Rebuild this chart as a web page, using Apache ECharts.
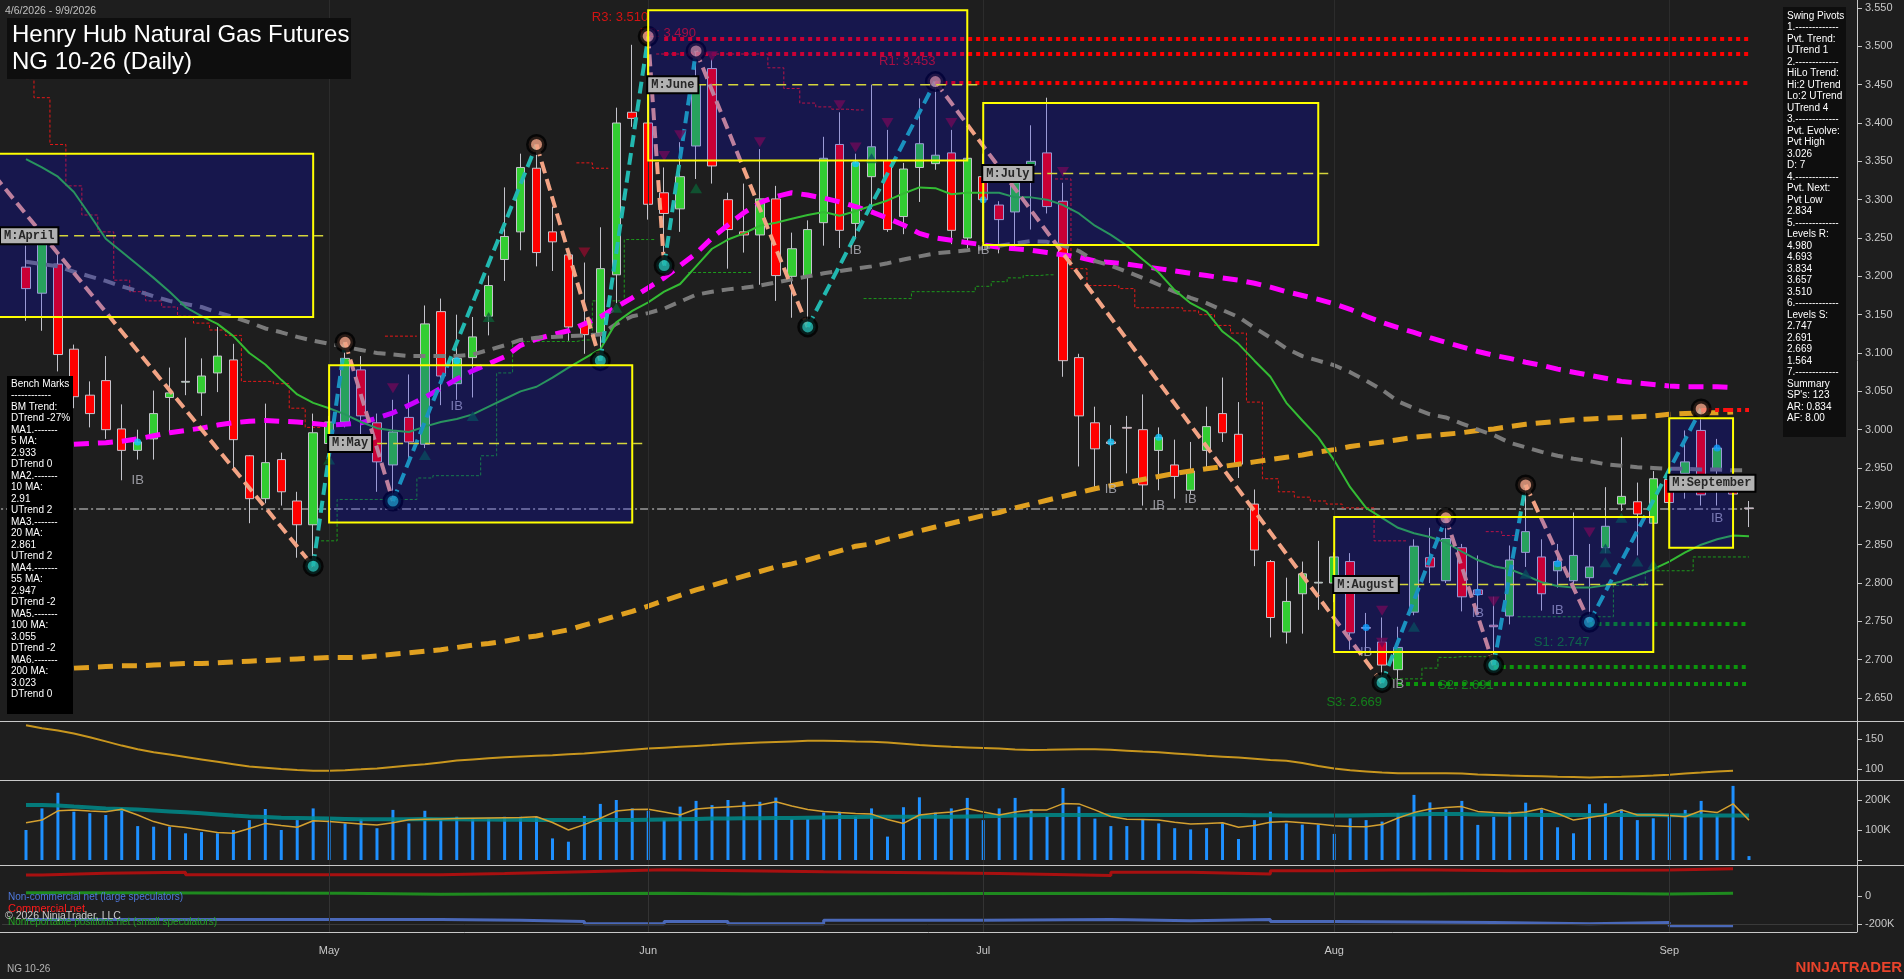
<!DOCTYPE html>
<html><head><meta charset="utf-8">
<script src="https://cdn.jsdelivr.net/npm/echarts@6/dist/echarts.min.js"></script>
<style>html,body{margin:0;padding:0;background:#1e1e1e;overflow:hidden}#c{width:1904px;height:979px}</style>
</head><body><div id="c"></div>
<script>
// ---------------- DATA ----------------
const dates = ['04-06','04-07','04-08','04-09','04-10','04-13','04-14','04-15','04-16','04-17','04-20','04-21','04-22','04-23','04-24','04-27','04-28','04-29','04-30',
'05-01','05-04','05-05','05-06','05-07','05-08','05-11','05-12','05-13','05-14','05-15','05-18','05-19','05-20','05-21','05-22','05-26','05-27','05-28','05-29',
'06-01','06-02','06-03','06-04','06-05','06-08','06-09','06-10','06-11','06-12','06-15','06-16','06-17','06-18','06-22','06-23','06-24','06-25','06-26','06-29','06-30',
'07-01','07-02','07-06','07-07','07-08','07-09','07-10','07-13','07-14','07-15','07-16','07-17','07-20','07-21','07-22','07-23','07-24','07-27','07-28','07-29','07-30','07-31',
'08-03','08-04','08-05','08-06','08-07','08-10','08-11','08-12','08-13','08-14','08-17','08-18','08-19','08-20','08-21','08-24','08-25','08-26','08-27','08-28','08-31',
'09-01','09-02','09-03','09-04','09-08','09-09'];
const monthNames = {'05':'May','06':'Jun','07':'Jul','08':'Aug','09':'Sep'};

// open, close, low, high
const ohlc = [
[3.212,3.184,3.142,3.240],[3.178,3.243,3.129,3.258],[3.216,3.098,3.076,3.228],[3.105,3.043,3.028,3.111],[3.045,3.021,3.003,3.063],
[3.064,3.000,2.988,3.096],[3.001,2.973,2.934,3.033],[2.973,2.984,2.961,3.000],[2.988,3.021,2.961,3.051],[3.042,3.048,2.997,3.081],
[3.062,3.063,3.045,3.120],[3.048,3.070,3.018,3.093],[3.074,3.096,3.049,3.134],[3.091,2.987,2.946,3.112],[2.966,2.910,2.878,2.967],
[2.910,2.957,2.904,3.034],[2.961,2.919,2.901,2.970],[2.907,2.876,2.833,2.919],[2.876,2.996,2.822,3.021],[2.982,3.010,2.967,3.018],
[3.010,3.093,3.003,3.114],[3.078,3.018,2.990,3.096],[3.009,2.958,2.919,3.021],[2.954,2.997,2.907,3.039],[3.016,2.984,2.961,3.072],
[2.981,3.138,2.976,3.162],[3.154,3.070,3.032,3.171],[3.060,3.093,3.039,3.150],[3.094,3.121,3.042,3.147],[3.148,3.188,3.123,3.201],
[3.222,3.252,3.194,3.316],[3.258,3.342,3.234,3.360],[3.341,3.231,3.213,3.372],[3.258,3.245,3.207,3.291],[3.228,3.134,3.116,3.232],
[3.138,3.124,3.099,3.218],[3.126,3.210,3.090,3.264],[3.202,3.400,3.165,3.420],[3.414,3.406,3.395,3.502],[3.400,3.294,3.274,3.513],
[3.309,3.282,3.214,3.342],[3.288,3.330,3.258,3.375],[3.370,3.450,3.327,3.494],[3.471,3.344,3.321,3.483],[3.300,3.261,3.210,3.309],
[3.258,3.254,3.231,3.321],[3.254,3.301,3.189,3.366],[3.301,3.201,3.168,3.318],[3.200,3.236,3.146,3.257],[3.200,3.261,3.134,3.273],
[3.270,3.354,3.240,3.382],[3.372,3.260,3.237,3.414],[3.269,3.348,3.249,3.360],[3.330,3.369,3.288,3.450],[3.351,3.261,3.258,3.391],
[3.278,3.340,3.255,3.348],[3.342,3.373,3.297,3.432],[3.347,3.358,3.339,3.454],[3.361,3.260,3.242,3.391],[3.250,3.354,3.237,3.357],
[3.330,3.300,3.245,3.360],[3.293,3.274,3.230,3.298],[3.284,3.322,3.234,3.345],[3.345,3.350,3.261,3.397],[3.361,3.291,3.282,3.433],
[3.298,3.090,3.069,3.322],[3.094,3.018,2.952,3.099],[3.009,2.975,2.925,3.030],[2.984,2.982,2.925,3.006],[3.003,3.002,2.943,3.018],
[3.000,2.928,2.901,3.046],[2.973,2.990,2.921,3.003],[2.954,2.939,2.910,2.987],[2.921,2.946,2.916,2.984],[2.973,3.004,2.949,3.030],
[3.021,2.996,2.984,3.068],[2.994,2.955,2.937,3.036],[2.903,2.843,2.822,2.922],[2.828,2.755,2.729,2.830],[2.736,2.776,2.721,2.807],
[2.786,2.812,2.734,2.828],[2.800,2.801,2.765,2.855],[2.800,2.834,2.775,2.840],[2.828,2.735,2.713,2.839],[2.742,2.741,2.710,2.761],
[2.723,2.693,2.670,2.755],[2.687,2.716,2.675,2.743],[2.762,2.848,2.758,2.857],[2.833,2.821,2.800,2.872],[2.803,2.858,2.800,2.885],
[2.846,2.782,2.763,2.851],[2.791,2.785,2.764,2.836],[2.745,2.743,2.693,2.782],[2.757,2.830,2.746,2.849],[2.840,2.867,2.821,2.927],
[2.834,2.786,2.764,2.857],[2.816,2.828,2.794,2.851],[2.803,2.836,2.794,2.892],[2.807,2.821,2.749,2.851],[2.846,2.874,2.839,2.925],
[2.903,2.913,2.894,2.990],[2.906,2.890,2.836,2.931],[2.878,2.936,2.876,2.946],[2.935,2.905,2.895,2.950],[2.943,2.958,2.910,2.999],
[2.999,2.915,2.901,3.027],[2.949,2.976,2.901,2.988],[2.931,2.916,2.901,2.987],[2.898,2.897,2.873,2.907]];

const ma20 = [3.353,3.342,3.330,3.310,3.280,3.249,3.232,3.215,3.198,3.180,3.160,3.148,3.138,3.122,3.100,3.085,3.065,3.046,3.035,3.028,
3.020,3.010,3.002,2.999,2.997,3.004,3.010,3.014,3.020,3.030,3.040,3.050,3.056,3.068,3.081,3.093,3.105,3.140,3.155,3.166,
3.180,3.190,3.213,3.236,3.248,3.256,3.266,3.270,3.275,3.280,3.284,3.279,3.285,3.292,3.299,3.308,3.316,3.315,3.307,3.309,
3.309,3.309,3.303,3.303,3.300,3.293,3.282,3.266,3.254,3.240,3.222,3.205,3.182,3.165,3.154,3.128,3.112,3.090,3.069,3.035,
3.012,2.990,2.960,2.925,2.898,2.885,2.872,2.865,2.860,2.853,2.841,2.830,2.822,2.818,2.810,2.801,2.796,2.794,2.794,2.797,
2.802,2.810,2.818,2.828,2.840,2.850,2.857,2.862,2.861];
const ma55 = [3.219,3.216,3.213,3.206,3.200,3.194,3.187,3.181,3.174,3.168,3.164,3.160,3.153,3.147,3.140,3.132,3.127,3.121,3.116,3.112,
3.108,3.104,3.100,3.098,3.096,3.096,3.096,3.096,3.098,3.104,3.110,3.117,3.120,3.121,3.122,3.123,3.124,3.138,3.148,3.152,
3.158,3.167,3.176,3.180,3.183,3.185,3.188,3.192,3.196,3.200,3.204,3.207,3.210,3.213,3.217,3.222,3.226,3.230,3.232,3.234,
3.237,3.240,3.243,3.246,3.245,3.240,3.233,3.220,3.214,3.206,3.198,3.189,3.180,3.172,3.165,3.156,3.147,3.133,3.120,3.106,
3.096,3.090,3.084,3.075,3.064,3.052,3.037,3.028,3.020,3.016,3.008,3.000,2.993,2.983,2.977,2.971,2.966,2.962,2.959,2.955,
2.953,2.951,2.950,2.949,2.949,2.948,2.948,2.947,2.947];
const ma100 = [2.978,2.979,2.980,2.981,2.982,2.983,2.985,2.988,2.992,2.996,2.999,3.002,3.006,3.009,3.011,3.012,3.011,3.010,3.008,3.006,
3.007,3.009,3.015,3.022,3.032,3.042,3.054,3.066,3.077,3.086,3.095,3.110,3.118,3.124,3.129,3.138,3.147,3.160,3.172,3.185,
3.198,3.214,3.230,3.250,3.267,3.283,3.296,3.304,3.309,3.306,3.302,3.297,3.291,3.284,3.276,3.267,3.256,3.250,3.247,3.244,
3.241,3.238,3.236,3.234,3.231,3.228,3.225,3.220,3.218,3.216,3.213,3.210,3.207,3.204,3.201,3.198,3.195,3.191,3.186,3.180,
3.175,3.170,3.164,3.157,3.148,3.140,3.133,3.127,3.120,3.114,3.108,3.102,3.097,3.093,3.088,3.084,3.079,3.075,3.071,3.067,
3.063,3.061,3.059,3.057,3.056,3.056,3.056,3.055,null];
const ma200 = [2.688,2.688,2.689,2.689,2.690,2.691,2.692,2.692,2.693,2.694,2.695,2.695,2.696,2.697,2.698,2.699,2.700,2.701,2.702,2.703,
2.703,2.703,2.705,2.707,2.709,2.711,2.713,2.716,2.719,2.721,2.724,2.728,2.731,2.735,2.739,2.745,2.751,2.757,2.763,2.770,
2.777,2.784,2.791,2.797,2.803,2.809,2.815,2.821,2.825,2.830,2.836,2.842,2.848,2.851,2.857,2.862,2.868,2.873,2.878,2.883,
2.888,2.892,2.898,2.903,2.908,2.913,2.918,2.923,2.927,2.931,2.935,2.939,2.943,2.946,2.949,2.952,2.955,2.958,2.961,2.964,
2.967,2.971,2.974,2.978,2.981,2.984,2.987,2.990,2.992,2.994,2.996,2.999,3.001,3.004,3.007,3.009,3.011,3.013,3.014,3.015,
3.016,3.017,3.018,3.020,3.021,3.022,3.022,3.023,null];

const N_ = null;
const stopDn = [3.458,3.433,3.372,3.318,3.280,3.258,3.195,3.180,3.168,3.160,3.148,3.139,3.130,3.123,3.063,3.063,3.060,3.028,3.003,
N_,N_,N_,N_,3.122,3.122,N_,N_,N_,N_,N_,N_,N_,N_,N_,N_,3.348,3.341,N_,N_,N_,
3.490,3.490,3.490,3.490,3.490,3.490,3.490,3.472,3.445,3.426,3.421,3.418,3.417,
N_,N_,N_,N_,N_,N_,N_,N_,N_,N_,N_,N_,
3.327,3.210,3.188,3.188,3.184,3.159,3.159,3.159,3.155,3.150,3.136,3.126,3.036,2.936,2.919,2.912,2.907,2.903,2.898,2.898,2.855,2.855,
N_,N_,N_,N_,N_,2.867,2.862,N_,N_,N_,N_,N_,N_,N_,N_,N_,N_,N_,N_,N_,N_,N_];
const stopUp = [N_,N_,N_,N_,N_,N_,N_,N_,N_,N_,N_,N_,N_,N_,N_,N_,N_,N_,N_,
2.855,2.909,2.909,2.909,2.909,2.909,2.937,2.940,2.940,2.940,2.966,3.074,3.115,3.115,3.115,3.115,3.117,3.168,3.168,3.248,3.248,
N_,N_,3.205,3.205,3.205,3.205,N_,N_,N_,N_,N_,N_,N_,3.171,3.171,3.171,3.180,3.180,3.180,3.180,3.187,3.193,3.198,3.201,3.202,
N_,N_,N_,N_,N_,N_,N_,N_,N_,N_,N_,N_,N_,N_,N_,N_,N_,N_,N_,N_,N_,
2.675,2.675,2.689,2.703,2.704,2.704,N_,N_,2.756,2.756,2.756,2.756,2.756,2.756,2.797,2.797,2.816,2.816,2.816,2.834,2.834,2.834,2.834];

// swing pivots (bar index, price); first one is the off-chart start of the zigzag
const pivotBars   = [-2, 18, 20, 23, 32, 36, 39, 40, 42, 49, 57, 85, 89, 92, 94, 98, 105];
const pivotPrices = [3.332, 2.822, 3.114, 2.907, 3.372, 3.090, 3.513, 3.214, 3.494, 3.134, 3.454, 2.670, 2.885, 2.693, 2.928, 2.749, 3.027];

// resistance / support levels
const levelNames  = ['R3','R2','R1','S1','S2','S3'];
const levelPrices = [3.510, 3.490, 3.453, 2.747, 2.691, 2.669];
const levelFrom   = [40, 40, 57, 98, 92, 86];
const levelLabelAt= [39, 42, 57, 98, 92, 85];
const levelTo     = 108;
const pivotHighLevel = 3.026;
const lastPrice = 2.897;

const ibBars   = [7, 27, 52, 60, 68, 71, 73, 84, 86, 91, 96, 106];
const ibPrices = [2.934, 3.030, 3.234, 3.234, 2.922, 2.901, 2.909, 2.710, 2.668, 2.761, 2.764, 2.884];
const dotBars   = [7, 27, 52, 60, 68, 71, 84, 91, 96, 106];
const dotPrices = [2.984, 3.090, 3.347, 3.300, 2.984, 2.990, 2.742, 2.788, 2.825, 2.976];
const triDnBars   = [23, 35, 40, 41, 43, 46, 51, 52, 54, 58, 65, 85, 85, 92, 98];
const triDnPrices = [3.054, 3.231, 3.357, 3.384, 3.487, 3.375, 3.423, 3.368, 3.400, 3.400, 3.336, 2.764, 2.722, 2.776, 2.866];
const triUpBars   = [19, 25, 28, 29, 37, 42, 53, 87, 94, 99, 99, 100, 101, 102];
const triUpPrices = [2.961, 2.967, 3.018, 3.147, 3.159, 3.315, 3.354, 2.743, 2.812, 2.845, 2.827, 2.885, 2.828, 2.824];

// monthly boxes
const boxNames = ['M:April','M:May','M:June','M:July','M:August','M:September'];
const boxStart = [-2, 19, 39, 60, 82, 103];
const boxEnd   = [18, 38, 59, 81, 102, 107];
const boxHigh  = [3.360, 3.084, 3.547, 3.426, 2.886, 3.015];
const boxLow   = [3.147, 2.879, 3.351, 3.241, 2.710, 2.846];
const boxMid   = [3.253, 2.982, 3.450, 3.334, 2.798, 2.930];

const priceTicks = [2.65,2.70,2.75,2.80,2.85,2.90,2.95,3.00,3.05,3.10,3.15,3.20,3.25,3.30,3.35,3.40,3.45,3.50,3.55];

const osc = [173,168,164,159,153,146,139,133,128,124,120,116,112,108,104,102,100,98.5,97.2,97,
98,99.4,101,103.5,106,108,111,114,116,118,119.5,121,122,123,124.5,126,128,130,132,134,
135.5,137,138.5,140,141.6,143,144,145,146,147,147,146.5,146,145.6,144,142,140,138.5,137,136,
135,134,132.5,131.7,132,132.5,133,133,132,130.5,129,128,126,124,122,120.6,119,117,115,113.9,
110,105,101,98,96,94,93,92.8,92.8,92.8,92.5,91,90,89,88.5,88,87,86.5,86,86.5,
87,88,89,90.5,92.5,94,96,97.2,null];
const oscTicks = [100, 150];

// volume in thousands
const volume = [100,172,224,161,156,150,172,113,111,111,89,93,89,100,133,170,100,133,172,133,
122,136,106,167,122,164,136,144,139,138,144,144,144,72,61,147,187,200,172,164,
133,178,197,183,200,194,194,208,137,136,158,161,144,172,78,176,209,158,172,207,
133,172,207,169,147,240,178,138,113,113,136,122,106,102,106,122,70,133,161,122,
118,118,87,139,133,128,156,217,192,169,197,117,144,161,191,169,109,89,186,189,
169,133,139,147,167,197,147,247,13];
const volFast = [124,133,164,167,163,161,169,150,128,114,108,100,92,89,105,122,115,109,131,128,
124,120,117,124,134,136,137,138,139,140,141,142,144,125,100,118,139,163,168,169,
160,150,170,174,177,180,183,194,180,168,162,158,155,153,135,122,150,156,160,172,
160,150,160,167,167,188,187,167,145,136,135,133,126,120,122,124,109,115,126,128,
124,120,114,112,111,118,140,158,170,175,178,162,158,156,160,172,155,133,142,150,
167,150,150,148,144,164,158,187,133];
const volSlow = [183,183,182,178,175,172,170,168,165,162,159,156,152,148,145,143,141,140,139,138,
137,136,136,136,136,137,136,136,135,135,134,134,133,133,133,133,133,133,133,134,
135,136,137,138,138,139,139,140,140,141,142,143,143,144,144,144,144,144,144,145,
146,147,148,149,150,150,150,150,150,150,150,150,150,150,150,150,150,149,149,148,
148,148,148,148,149,150,151,152,153,153,153,152,152,151,151,150,150,150,150,150,
150,150,150,149,149,148,148,148,148];
const volTicks = [0, 100, 200];
const volLabels = [100, 200];

// COT weekly values (bar index where the value starts, thousands)
const cotCommBars = [0,1,5,10,26,30,35,40,50,61,68,73,78,82,87,93,103,107];
const cotComm     = [150,162,169,152,160,174,188,174,160,147,169,157,181,188,181,186,195,195];
const cotSmallBars = [0,3,20,26,40,45,68,87,97,103,107];
const cotSmall     = [24,19,12,19,14,19,14,19,14,19,19];
const cotLargeBars = [0,26,31,35,40,44,50,60,68,73,78,82,92,98,103,107];
const cotLarge     = [-167,-174,-183,-198,-183,-198,-174,-167,-176,-167,-183,-190,-198,-190,-212,-212];
const cotTicks = [-200, 0];

const benchText = ['Bench Marks','------------','BM Trend:','DTrend -27%','MA1.-------','5 MA:','2.933','DTrend 0','MA2.-------','10 MA:','2.91','UTrend 2','MA3.-------','20 MA:','2.861','UTrend 2','MA4.-------','55 MA:','2.947','DTrend -2','MA5.-------','100 MA:','3.055','DTrend -2','MA6.-------','200 MA:','3.023','DTrend 0'];
const swingText = ['Swing Pivots','1.-------------','Pvt. Trend:','UTrend 1','2.-------------','HiLo Trend:','Hi:2 UTrend','Lo:2 UTrend','UTrend 4','3.-------------','Pvt. Evolve:','Pvt High','3.026','D: 7','4.-------------','Pvt. Next:','Pvt Low','2.834','5.-------------','Levels R:','4.980','4.693','3.834','3.657','3.510','6.-------------','Levels S:','2.747','2.691','2.669','1.564','7.-------------','Summary',"SP's: 123",'AR: 0.834','AF: 8.00'];

// ---------------- BUILD ----------------
const PAD = 1, NCAT = 116;
const X = b => b + PAD;
const cats = [];
for (let k = 0; k < NCAT; k++) { const b = k - PAD; cats.push(b >= 0 && b < dates.length ? dates[b] : 'p' + k); }
const isMonthStart = k => { const b = k - PAD; return b > 0 && b < dates.length && dates[b].slice(0,2) !== dates[b-1].slice(0,2); };
const monthCats = cats.filter((c, k) => isMonthStart(k));
const pts = arr => arr.map((v, i) => [X(i), v]);
const pairs = (bars, vals) => bars.map((b, i) => [X(b), vals[i]]);
const monthLines = (color) => ({ silent: true, symbol: ['none','none'], label: {show: false}, animation: false,
  lineStyle: {color: color, width: 1, type: 'solid'}, data: monthCats.map(c => ({xAxis: c})) });

const FONT = 'Arial, "Liberation Sans", sans-serif';
const GRID_L = 2.07, GRID_R = 51.3, AX_OFF = 4.3;
const axisCol = '#c8c8c8';

function yAx(idx, min, max, ticks, labels, fmt) {
  return { gridIndex: idx, type: 'value', position: 'right', offset: AX_OFF, min: min, max: max,
    axisLine: {show: true, lineStyle: {color: axisCol, width: 1}},
    axisTick: {show: true, length: 5, inside: false, customValues: ticks, lineStyle: {color: axisCol}},
    axisLabel: {show: true, customValues: labels, formatter: fmt, color: axisCol, fontSize: 11, fontFamily: FONT, margin: 8},
    splitLine: {show: false} };
}
function xAx(idx, showLabels) {
  return { gridIndex: idx, type: 'category', data: cats, boundaryGap: true, show: showLabels,
    axisLine: {show: false},
    axisTick: {show: showLabels, alignWithLabel: true, interval: (k) => isMonthStart(k), length: 5, lineStyle: {color: axisCol}},
    axisLabel: {show: showLabels, interval: (k) => isMonthStart(k), formatter: (v) => monthNames[v.slice(0,2)] || '',
      color: axisCol, fontSize: 11, fontFamily: FONT, margin: 13},
    splitLine: {show: false} };
}

const zigData = [];
for (let k = 0; k < pivotBars.length - 1; k++) {
  const up = pivotPrices[k+1] > pivotPrices[k];
  zigData.push({ coords: [[X(pivotBars[k]), pivotPrices[k]], [X(pivotBars[k+1]), pivotPrices[k+1]]],
    lineStyle: {color: up ? '#22b8b0' : '#f2a384'} });
}
const levelData = levelNames.map((n, k) => ({ coords: [[X(levelFrom[k]), levelPrices[k]], [X(levelTo), levelPrices[k]]],
  lineStyle: {color: n[0] === 'R' ? '#ff0000' : '#0c960c'} }));
levelData.push({ coords: [[X(105), pivotHighLevel], [X(levelTo), pivotHighLevel]], lineStyle: {color: '#ff1010', type: [10,4,4,4]} });

const pivHi = [], pivLo = [];
for (let k = 1; k < pivotBars.length; k++) {
  const isHi = pivotPrices[k] > pivotPrices[k-1];
  (isHi ? pivHi : pivLo).push([X(pivotBars[k]), pivotPrices[k]]);
}

const series = [
  { type: 'line', data: pts(stopDn), xAxisIndex: 0, yAxisIndex: 0, step: 'middle', symbol: 'none', silent: true, z: 2,
    lineStyle: {color: '#e81818', width: 1, type: [3, 2]} },
  { type: 'line', data: pts(stopUp), xAxisIndex: 0, yAxisIndex: 0, step: 'middle', symbol: 'none', silent: true, z: 2,
    lineStyle: {color: '#1c9a1c', width: 1, type: [3, 2]} },
  { type: 'lines', coordinateSystem: 'cartesian2d', xAxisIndex: 0, yAxisIndex: 0, silent: true, z: 2, polyline: false,
    lineStyle: {color: '#9a9a9a', width: 1.5, type: [9, 3, 2, 3], opacity: 1},
    data: [{coords: [[X(-2), lastPrice], [X(108), lastPrice]]}] },
  { type: 'candlestick', xAxisIndex: 0, yAxisIndex: 0, z: 3, barWidth: 9, silent: true,
    encode: {x: 0, y: [1, 2, 3, 4]},
    data: ohlc.map((d, i) => [X(i), d[0], d[1], d[2], d[3]]),
    itemStyle: {color: '#32cd32', color0: '#ff0000', borderColor: '#c4c4cc', borderColor0: '#c4c4cc', borderColorDoji: '#c4c4cc', borderWidth: 1},
    markLine: monthLines('#2c2c2c') },
  { type: 'line', data: pts(ma200), xAxisIndex: 0, yAxisIndex: 0, symbol: 'none', silent: true, z: 4,
    lineStyle: {color: '#e0a020', width: 5, type: [15, 9]} },
  { type: 'line', data: pts(ma100), xAxisIndex: 0, yAxisIndex: 0, symbol: 'none', silent: true, z: 4,
    lineStyle: {color: '#ff00ff', width: 5, type: [15, 9]} },
  { type: 'line', data: pts(ma55), xAxisIndex: 0, yAxisIndex: 0, symbol: 'none', silent: true, z: 4,
    lineStyle: {color: '#7a7a7a', width: 4, type: [12, 8]} },
  { type: 'line', data: pts(ma20), xAxisIndex: 0, yAxisIndex: 0, symbol: 'none', silent: true, z: 4,
    lineStyle: {color: '#34bc34', width: 2} },
  { type: 'lines', coordinateSystem: 'cartesian2d', xAxisIndex: 0, yAxisIndex: 0, silent: true, z: 5, polyline: false,
    lineStyle: {width: 4, type: [12, 6], opacity: 1}, data: zigData },
  { type: 'lines', coordinateSystem: 'cartesian2d', xAxisIndex: 0, yAxisIndex: 0, silent: true, z: 5, polyline: false,
    lineStyle: {width: 4, type: [4, 4], opacity: 1}, data: levelData },
  { type: 'scatter', xAxisIndex: 0, yAxisIndex: 0, silent: true, z: 5, symbolSize: 0,
    data: levelNames.map((n, k) => ({ value: [X(levelLabelAt[k]), levelPrices[k]],
      label: { show: true, formatter: n + ': ' + levelPrices[k].toFixed(3), position: 'inside', align: 'right', verticalAlign: 'middle',
        offset: [0, n[0] === 'R' ? -21 : 19], color: n[0] === 'R' ? '#ff1010' : '#10961a', fontSize: 13, fontFamily: FONT } })) },
  { type: 'scatter', xAxisIndex: 0, yAxisIndex: 0, silent: true, z: 6, symbol: 'triangle', symbolRotate: 180, symbolSize: [12, 10],
    itemStyle: {color: '#8a0c2c'}, data: pairs(triDnBars, triDnPrices) },
  { type: 'scatter', xAxisIndex: 0, yAxisIndex: 0, silent: true, z: 6, symbol: 'triangle', symbolSize: [12, 10],
    itemStyle: {color: '#0c5e34'}, data: pairs(triUpBars, triUpPrices) },
  { type: 'scatter', xAxisIndex: 0, yAxisIndex: 0, silent: true, z: 6, symbolSize: 7,
    itemStyle: {color: '#10c8ff'}, data: pairs(dotBars, dotPrices) },
  { type: 'scatter', xAxisIndex: 0, yAxisIndex: 0, silent: true, z: 6, symbolSize: 0,
    label: {show: true, formatter: 'IB', position: 'inside', color: '#b8b8c0', fontSize: 13, fontFamily: FONT},
    data: pairs(ibBars, ibPrices) },
  { type: 'scatter', xAxisIndex: 0, yAxisIndex: 0, silent: true, z: 7, symbolSize: 16,
    itemStyle: {color: '#f2a384', borderColor: '#000', borderWidth: 5}, data: pivHi },
  { type: 'scatter', xAxisIndex: 0, yAxisIndex: 0, silent: true, z: 7, symbolSize: 16,
    itemStyle: {color: '#22b8b0', borderColor: '#000', borderWidth: 5}, data: pivLo },
  { type: 'custom', xAxisIndex: 0, yAxisIndex: 0, silent: true, z: 10, clip: false,
    data: boxNames.map((n, k) => [X(boxEnd[k]), boxMid[k]]),
    renderItem: (params, api) => {
      const k = params.dataIndex;
      const p1 = api.coord([X(boxStart[k]), boxHigh[k]]);
      const p2 = api.coord([X(boxEnd[k]), boxLow[k]]);
      const pm = api.coord([X(boxEnd[k]), boxMid[k]]);
      const x1 = p1[0], x2 = p2[0];
      return { type: 'group', children: [
        { type: 'rect', shape: {x: x1, y: p1[1], width: x2 - x1, height: p2[1] - p1[1]},
          style: {fill: 'rgba(0,0,255,0.21)', stroke: '#ffff00', lineWidth: 2} },
        { type: 'line', shape: {x1: x1, y1: pm[1], x2: x2 + 10, y2: pm[1]},
          style: {stroke: '#d4d43c', lineWidth: 1.5, lineDash: [10, 6]} },
        { type: 'text', style: {x: Math.max(x1, 1), y: pm[1], text: boxNames[k], align: 'left', verticalAlign: 'middle',
          font: 'bold 12px "Liberation Mono", "Courier New", monospace', fill: '#262626',
          backgroundColor: '#b2b2b2', borderColor: '#000', borderWidth: 2, padding: [2, 3, 1, 3]} }
      ]};
    } },
  // oscillator panel
  { type: 'line', xAxisIndex: 1, yAxisIndex: 1, data: pts(osc), symbol: 'none', silent: true,
    lineStyle: {color: '#c8961e', width: 2}, markLine: monthLines('#2c2c2c') },
  // volume panel
  { type: 'bar', xAxisIndex: 2, yAxisIndex: 2, data: pts(volume), barWidth: 3, silent: true,
    itemStyle: {color: '#1e90ff'}, markLine: monthLines('#2c2c2c') },
  { type: 'line', xAxisIndex: 2, yAxisIndex: 2, data: pts(volSlow), symbol: 'none', silent: true, z: 3,
    lineStyle: {color: 'rgba(0,139,139,0.85)', width: 4} },
  { type: 'line', xAxisIndex: 2, yAxisIndex: 2, data: pts(volFast), symbol: 'none', silent: true, z: 4,
    lineStyle: {color: '#d4a030', width: 1.5} },
  // COT panel
  { type: 'line', xAxisIndex: 3, yAxisIndex: 3, data: pairs(cotCommBars, cotComm), step: 'end', symbol: 'none', silent: true,
    lineStyle: {color: '#a81010', width: 3},
    markLine: { silent: true, symbol: ['none','none'], label: {show: false}, animation: false,
      data: monthCats.map(c => ({xAxis: c, lineStyle: {color: '#333', width: 1, type: 'solid'}})).concat([{yAxis: -200, lineStyle: {color: '#3a3a3a', width: 1, type: 'solid'}}]) } },
  { type: 'line', xAxisIndex: 3, yAxisIndex: 3, data: pairs(cotSmallBars, cotSmall), step: 'end', symbol: 'none', silent: true,
    lineStyle: {color: '#1f8a1f', width: 3} },
  { type: 'line', xAxisIndex: 3, yAxisIndex: 3, data: pairs(cotLargeBars, cotLarge), step: 'end', symbol: 'none', silent: true,
    lineStyle: {color: '#4a68b8', width: 3} }
];

const G = (o) => Object.assign({z: 100, silent: true}, o);
const graphic = [
  G({type: 'line', shape: {x1: 0, y1: 721.5, x2: 1904, y2: 721.5}, style: {stroke: axisCol, lineWidth: 1}}),
  G({type: 'line', shape: {x1: 0, y1: 780.5, x2: 1904, y2: 780.5}, style: {stroke: axisCol, lineWidth: 1}}),
  G({type: 'line', shape: {x1: 0, y1: 865.5, x2: 1904, y2: 865.5}, style: {stroke: axisCol, lineWidth: 1}}),
  G({type: 'line', shape: {x1: 0, y1: 932.5, x2: 1857, y2: 932.5}, style: {stroke: axisCol, lineWidth: 1}}),
  G({type: 'text', style: {x: 5, y: 11, text: '4/6/2026 - 9/9/2026', fill: '#c0c0c0', font: '10.5px ' + FONT, verticalAlign: 'middle'}}),
  G({type: 'rect', shape: {x: 7, y: 18, width: 344, height: 61}, style: {fill: '#0e0e0e'}}),
  G({type: 'text', style: {x: 12, y: 35, text: 'Henry Hub Natural Gas Futures', fill: '#ffffff', font: '24px ' + FONT, verticalAlign: 'middle'}}),
  G({type: 'text', style: {x: 12, y: 62, text: 'NG 10-26 (Daily)', fill: '#ffffff', font: '24px ' + FONT, verticalAlign: 'middle'}}),
  G({type: 'rect', shape: {x: 7, y: 376, width: 66, height: 338}, style: {fill: '#000000'}}),
  G({type: 'text', style: {x: 11, y: 378.3, text: benchText.join('\n'), fill: '#ffffff', font: '10px ' + FONT, lineHeight: 11.5, verticalAlign: 'top'}}),
  G({type: 'rect', shape: {x: 1783, y: 7, width: 63, height: 430}, style: {fill: '#0e0e0e'}}),
  G({type: 'text', style: {x: 1787, y: 10.3, text: swingText.join('\n'), fill: '#ffffff', font: '10px ' + FONT, lineHeight: 11.5, verticalAlign: 'top'}}),
  G({type: 'text', style: {x: 8, y: 897, text: 'Non-commercial net (large speculators)', fill: '#4f78dc', font: '10px ' + FONT, verticalAlign: 'middle'}}),
  G({type: 'text', style: {x: 8, y: 909, text: 'Commercial net', fill: '#ff1a1a', font: '11px ' + FONT, verticalAlign: 'middle'}}),
  G({type: 'text', style: {x: 8, y: 922, text: 'Nonreportable positions net (small speculators)', fill: '#22a022', font: '10px ' + FONT, verticalAlign: 'middle'}}),
  G({type: 'text', style: {x: 5, y: 916, text: '\u00a9 2026 NinjaTrader, LLC', fill: '#c8c8c8', font: '10.5px ' + FONT, verticalAlign: 'middle'}}),
  G({type: 'text', style: {x: 7, y: 969, text: 'NG 10-26', fill: '#b4b4b4', font: '10px ' + FONT, verticalAlign: 'middle'}}),
  G({type: 'text', style: {x: 1902, y: 968, text: 'NINJATRADER', fill: '#e8432b', font: 'bold 15px ' + FONT, align: 'right', verticalAlign: 'middle'}})
];

const chart = echarts.init(document.getElementById('c'), null, {renderer: 'canvas'});
chart.setOption({
  backgroundColor: '#1e1e1e',
  animation: false,
  grid: [
    {left: GRID_L, right: GRID_R, top: 0, height: 721},
    {left: GRID_L, right: GRID_R, top: 722, height: 58},
    {left: GRID_L, right: GRID_R, top: 781, height: 84},
    {left: GRID_L, right: GRID_R, top: 866, height: 66}
  ],
  xAxis: [xAx(0, false), xAx(1, false), xAx(2, false), xAx(3, true)],
  yAxis: [
    yAx(0, 2.62004, 3.56043, priceTicks, priceTicks, v => v.toFixed(3)),
    yAx(1, 81.667, 178.333, oscTicks, oscTicks, v => String(v)),
    yAx(2, -16.667, 263.333, volTicks, volLabels, v => v + 'K'),
    yAx(3, -257.14, 214.29, cotTicks, cotTicks, v => v === 0 ? '0' : v + 'K')
  ],
  series: series,
  graphic: graphic
});
</script>
</body></html>
